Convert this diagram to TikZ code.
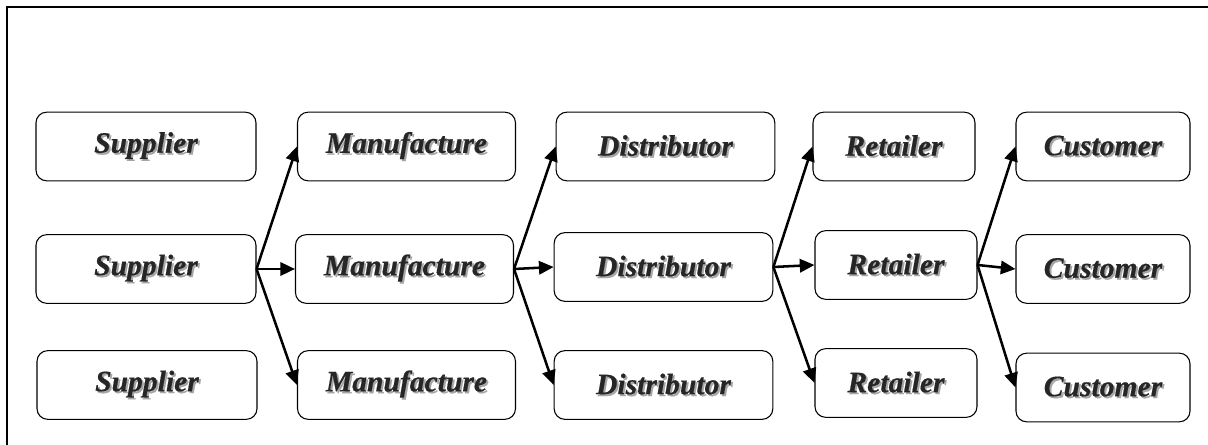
\documentclass[tikz,border=0pt]{standalone}
\usepackage{fontspec}
\setmainfont{Liberation Serif}
\newfontfamily\stagefont{Liberation Serif}[BoldItalicFeatures={FakeBold=0.5}]
\usetikzlibrary{arrows.meta}
% text with a soft grey drop shadow
\newcommand{\shtxt}[1]{\makebox[0pt][l]{\raisebox{-1.4pt}{\hspace{1.4pt}\textcolor{black!35}{#1}}}\textcolor{black!85}{#1}}
\begin{document}
\begin{tikzpicture}[x=0.75pt,y=-0.75pt,
  stagebox/.style={draw, line width=0.8pt, rounded corners=8pt,
    minimum height=51.5pt, inner sep=0pt,
    font=\stagefont\fontsize{22.2}{24}\selectfont\bfseries\itshape},
  flow/.style={line width=1.9pt, -{Triangle[length=11pt,width=10pt]}}]
\useasboundingbox (0,0) rectangle (1208,445);
% outer frame (top and left edges)
\draw[line width=0.8pt] (7,445) -- (7,7) -- (1208,7);

% suppliers
\node[stagebox, minimum width=165pt] (s1) at (146,146.5) {\shtxt{Supplier}};
\node[stagebox, minimum width=165pt] (s2) at (146,269)   {\shtxt{Supplier}};
\node[stagebox, minimum width=165pt] (s3) at (147,385)   {\shtxt{Supplier}};
% manufacturers
\node[stagebox, minimum width=163.5pt] (m1) at (406.5,146.5) {\shtxt{Manufacture}};
\node[stagebox, minimum width=163.5pt] (m2) at (404.5,269)   {\shtxt{Manufacture}};
\node[stagebox, minimum width=163.5pt] (m3) at (406.5,385)   {\shtxt{Manufacture}};
% distributors
\node[stagebox, minimum width=164pt] (d1) at (665.5,146.5) {\shtxt{Distributor}};
\node[stagebox, minimum width=164pt] (d2) at (663.5,267)   {\shtxt{Distributor}};
\node[stagebox, minimum width=164pt] (d3) at (663.5,385)   {\shtxt{Distributor}};
% retailers
\node[stagebox, minimum width=121.5pt] (r1) at (894,146.5) {\shtxt{Retailer}};
\node[stagebox, minimum width=121.5pt] (r2) at (896,265)   {\shtxt{Retailer}};
\node[stagebox, minimum width=121.5pt] (r3) at (896,383)   {\shtxt{Retailer}};
% customers
\node[stagebox, minimum width=130.5pt] (c1) at (1103,146.5) {\shtxt{Customer}};
\node[stagebox, minimum width=130.5pt] (c2) at (1103,269)   {\shtxt{Customer}};
\node[stagebox, minimum width=130.5pt] (c3) at (1103,387.5) {\shtxt{Customer}};

% fan-out connectors from each middle box
\draw[flow] (s2.east) -- (m1.west);
\draw[flow] (s2.east) -- (m2.west);
\draw[flow] (s2.east) -- (m3.west);
\draw[flow] (m2.east) -- (d1.west);
\draw[flow] (m2.east) -- (d2.west);
\draw[flow] (m2.east) -- (d3.west);
\draw[flow] (d2.east) -- (r1.west);
\draw[flow] (d2.east) -- (r2.west);
\draw[flow] (d2.east) -- (r3.west);
\draw[flow] (r2.east) -- (c1.west);
\draw[flow] (r2.east) -- (c2.west);
\draw[flow] (r2.east) -- (c3.west);
\end{tikzpicture}
\end{document}
